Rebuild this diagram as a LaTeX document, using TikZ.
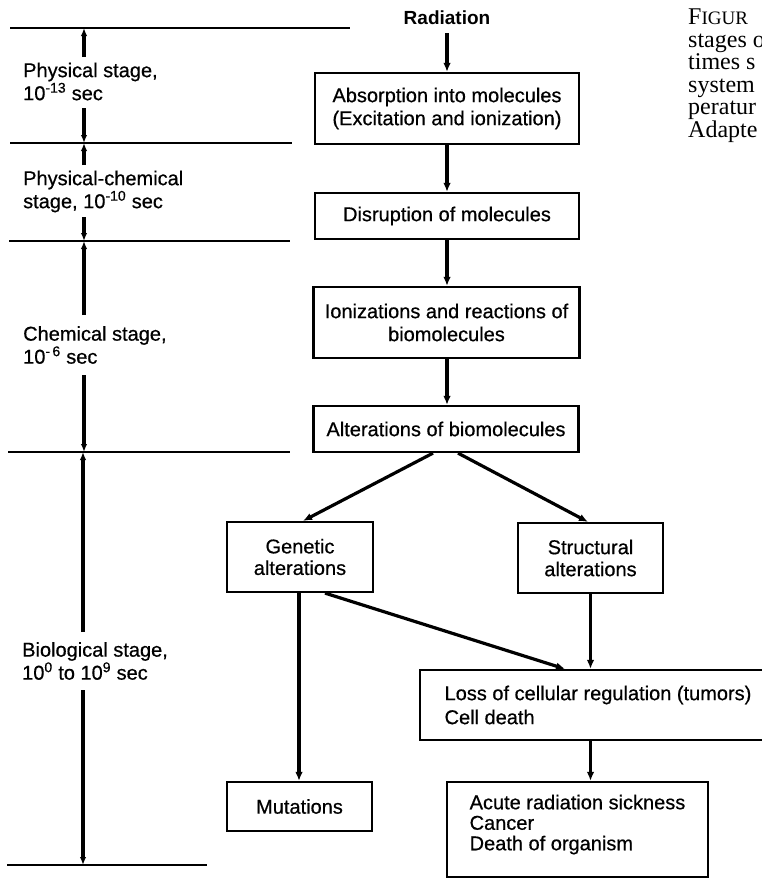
\documentclass[tikz,border=0pt]{standalone}
\usepackage{fontspec}
\setmainfont{Liberation Sans}[UprightFeatures={FakeBold=0.6}]
\newfontfamily\capfont{Liberation Serif}
\usetikzlibrary{arrows.meta,calc}
\begin{document}
\begin{tikzpicture}[x=1pt,y=-1pt,
  box/.style={draw,line width=2.2pt,inner sep=0pt,align=center,font=\fontsize{20}{23}\selectfont},
  flow/.style={line width=3.2pt,-{Latex[length=9pt,width=7.5pt]}},
  tlarrow/.style={line width=3.2pt,-{Latex[length=8pt,width=6.5pt]}},
  tline/.style={line width=2.4pt},
  stagelab/.style={anchor=west,inner sep=0pt,align=left,font=\fontsize{20}{23}\selectfont}]
\useasboundingbox (0,0) rectangle (761,878);

% caption fragment at the right edge
\node[anchor=north west,inner sep=0pt,align=left,font=\capfont\fontsize{24}{22.5}\selectfont] (cap) at (688,9)
  {F{\fontsize{19}{22.5}\selectfont IGUR}\\ stages o\\ times s\\ system\\ peratur\\ Adapte};

% time scale lines
\coordinate (L1a) at (10,28);  \coordinate (L1b) at (350,28);
\coordinate (L2a) at (10,143); \coordinate (L2b) at (292,143);
\coordinate (L3a) at (9,241);  \coordinate (L3b) at (290,241);
\coordinate (L4a) at (8,452);  \coordinate (L4b) at (290,452);
\coordinate (L5a) at (7,865);  \coordinate (L5b) at (207,865);
\foreach \a/\b in {L1a/L1b,L2a/L2b,L3a/L3b,L4a/L4b,L5a/L5b} \draw[tline] (\a) -- (\b);

% stage labels
\node[stagelab] (lab1) at (23,81.5) {Physical stage,\\10\textsuperscript{-13} sec};
\node[stagelab] (lab2) at (23,191.5) {Physical-chemical\\stage, 10\textsuperscript{-10} sec};
\node[stagelab] (lab3) at (23,345) {Chemical stage,\\10\textsuperscript{-\,6} sec};
\node[stagelab] (lab4) at (22,661) {Biological stage,\\10\textsuperscript{0} to 10\textsuperscript{9} sec};

% time arrows
\coordinate (t1u) at (84,57);  \coordinate (t1top) at (84,28);
\coordinate (t1d) at (84,108); \coordinate (t1bot) at (84,143);
\coordinate (t2u) at (84,165); \coordinate (t2top) at (84,143);
\coordinate (t2d) at (84,217); \coordinate (t2bot) at (84,241);
\coordinate (t3u) at (84,315); \coordinate (t3top) at (84,241);
\coordinate (t3d) at (84,375); \coordinate (t3bot) at (84,452);
\coordinate (t4u) at (83,632); \coordinate (t4top) at (83,452);
\coordinate (t4d) at (83,690); \coordinate (t4bot) at (83,865);
\foreach \s/\e in {t1u/t1top,t1d/t1bot,t2u/t2top,t2d/t2bot,t3u/t3top,t3d/t3bot,t4u/t4top,t4d/t4bot}
  \draw[tlarrow] (\s) -- (\e);

% flow chart
\node[inner sep=0pt,font=\bfseries\fontsize{19}{22}\selectfont] (rad) at (447,18) {Radiation};
\node[box,minimum width=264pt,minimum height=71pt] (b1) at (447,108.5)
  {Absorption into molecules\\(Excitation and ionization)};
\node[box,minimum width=264pt,minimum height=46pt] (b2) at (447,216) {Disruption of molecules};
\node[box,minimum width=266pt,minimum height=71pt] (b3) at (446.5,322.5)
  {Ionizations and reactions of\\biomolecules};
\node[box,minimum width=265pt,minimum height=46pt] (b4) at (446,429) {Alterations of biomolecules};
\node[box,minimum width=146pt,minimum height=70pt,font=\fontsize{20}{21.5}\selectfont] (gen) at (300,557) {Genetic\\alterations};
\node[box,minimum width=145pt,minimum height=70pt,font=\fontsize{20}{22}\selectfont] (str) at (590.5,558) {Structural\\alterations};
\node[box,minimum width=145pt,minimum height=49pt] (mut) at (299.5,806.5) {Mutations};
\node[box,align=left,minimum width=356pt,minimum height=70pt,font=\fontsize{20}{24}\selectfont] (loss) at (598,705)
  {Loss of cellular regulation (tumors)\\Cell death};
\node[box,align=left,minimum width=261pt,minimum height=95pt,text depth=14pt,font=\fontsize{20}{20.5}\selectfont] (acute) at (577.5,829.5)
  {Acute radiation sickness\\Cancer\\Death of organism};

\draw[flow] ($(rad.south)+(0,8)$) -- (b1.north);
\draw[flow] (b1.south) -- (b2.north);
\draw[flow] (b2.south) -- (b3.north -| b2.south);
\draw[flow] (b3.south -| b2.south) -- (b4.north -| b2.south);
\draw[flow] ($(b4.south)+(-13,0)$) -- ($(gen.north)+(3,0)$);
\draw[flow] ($(b4.south)+(12,0)$) -- ($(str.north)+(-2.5,0)$);
\draw[flow] (gen.south -| 299,0) -- (mut.north -| 299,0);
\draw[flow] ($(gen.south)+(25,0)$) -- ($(loss.north)+(-33,0)$);
\draw[flow] (str.south) -- (loss.north -| str.south);
\draw[flow] (loss.south -| str.south) -- (acute.north -| str.south);
\end{tikzpicture}
\end{document}
